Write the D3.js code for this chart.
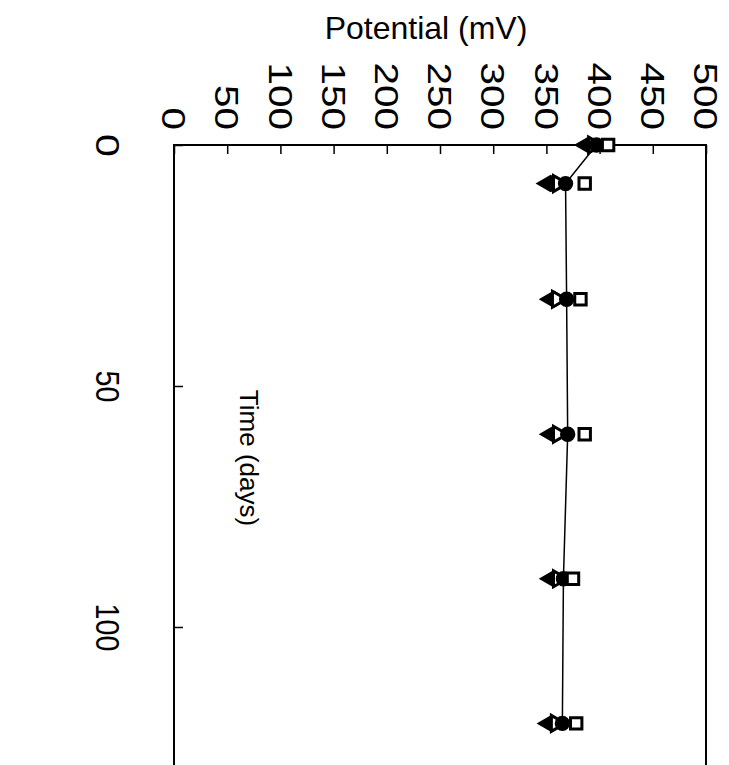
<!DOCTYPE html>
<html lang="en">
<head>
    <meta charset="UTF-8">
    <title>Potential vs time</title>
    <style>
        body { margin: 0; background: #fff; }
        svg { display: block; font-family: "Liberation Sans", Arial, sans-serif; }
    </style>
</head>
<body>
<svg></svg>
<script src="https://d3js.org/d3.v7.min.js"></script>
<script>
    /* data (days, potential in mV) */
    const days = [0, 8, 32, 60, 90, 120];
    const diamondSeries = [390, 354, 357, 357, 357, 355];
    const triangleSeries = [394, 361, 360, 361, 361, 359];
    const circleSeries = [397, 368, 369, 370, 366, 365];
    const squareSeries = [408, 386, 382, 386, 375, 378];
    const potentialTicks = [0, 50, 100, 150, 200, 250, 300, 350, 400, 450, 500];
    const timeTicks = [0, 50, 100];

    /* layout - the chart is drawn turned a quarter clockwise */
    const width = 729;
    const height = 765;
    const frameLeft = 174, frameRight = 706, frameTop = 145;

    const svg = d3.select("svg")
        .attr("width", width)
        .attr("height", height);

    const x = d3.scaleLinear().domain([0, 500]).range([frameLeft, frameRight]);
    const y = d3.scaleLinear().domain([0, 140]).range([frameTop, frameTop + 140 * 4.82]);

    /* frame */
    svg.append("rect")
        .attr("x", frameLeft)
        .attr("y", frameTop)
        .attr("width", frameRight - frameLeft)
        .attr("height", y(140) - frameTop)
        .attr("fill", "none")
        .attr("stroke", "#000")
        .attr("stroke-width", 2);

    /* potential axis on top */
    const gx = svg.append("g")
        .attr("transform", `translate(0,${frameTop})`)
        .call(d3.axisTop(x).tickValues(potentialTicks).tickSize(-9).tickPadding(0));
    gx.select(".domain").remove();
    gx.selectAll("line").attr("stroke-width", 1.5);
    gx.selectAll("text")
        .attr("y", 0)
        .attr("dy", "0.36em")
        .attr("text-anchor", "end")
        .attr("transform", "translate(0,-15) rotate(90)")
        .attr("font-size", 34)
        .attr("fill", "#000")
        .attr("textLength", d => String(d).length * 22.5)
        .attr("lengthAdjust", "spacingAndGlyphs");

    /* time axis on the left */
    const gy = svg.append("g")
        .attr("transform", `translate(${frameLeft},0)`)
        .call(d3.axisLeft(y).tickValues(timeTicks).tickSize(-9).tickPadding(0));
    gy.select(".domain").remove();
    gy.selectAll("line").attr("stroke-width", 1.5);
    gy.selectAll("text")
        .attr("x", 0)
        .attr("dy", 0)
        .attr("text-anchor", "middle")
        .attr("transform", "translate(-78,0) rotate(90)")
        .attr("font-size", 34)
        .attr("fill", "#000")
        .attr("textLength", d => Math.max(23, String(d).length * 16))
        .attr("lengthAdjust", "spacingAndGlyphs");

    /* titles */
    svg.append("text")
        .attr("x", 426)
        .attr("y", 39)
        .attr("text-anchor", "middle")
        .attr("font-size", 32)
        .text("Potential (mV)");

    svg.append("text")
        .attr("transform", `translate(240,458) rotate(90)`)
        .attr("text-anchor", "middle")
        .attr("font-size", 26)
        .text("Time (days)");

    /* line through the circle series */
    const pts = days.map((d, i) => [x(circleSeries[i]), y(d)]);
    svg.append("path")
        .attr("d", d3.line()(pts))
        .attr("fill", "none")
        .attr("stroke", "#000")
        .attr("stroke-width", 1.5);

    /* markers */
    const series = [
        {values: diamondSeries, type: d3.symbolDiamond, fill: "#000", rot: 90, size: 170},
        {values: triangleSeries, type: d3.symbolTriangle, fill: "#fff", rot: 90, size: 110},
        {values: circleSeries, type: d3.symbolCircle, fill: "#000", rot: 0, size: 120},
        {values: squareSeries, type: d3.symbolSquare, fill: "#fff", rot: 0, size: 130}
    ];
    series.forEach(s => {
        svg.append("g").selectAll("path")
            .data(days)
            .join("path")
            .attr("transform", (d, i) => `translate(${x(s.values[i])},${y(d)}) rotate(${s.rot})`)
            .attr("d", d3.symbol().type(s.type).size(s.size))
            .attr("fill", s.fill)
            .attr("stroke", "#000")
            .attr("stroke-width", 3);
    });
</script>
</body>
</html>
